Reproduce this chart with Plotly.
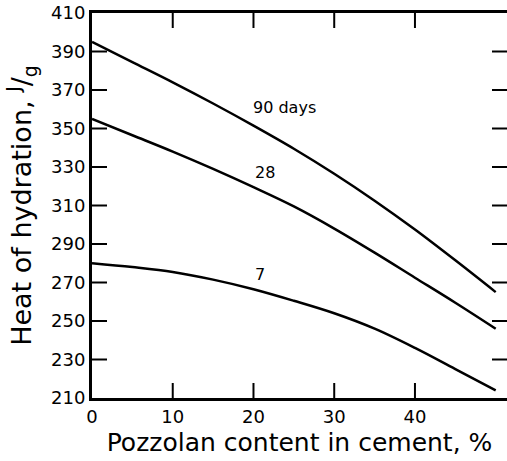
import plotly.graph_objects as go

# Data
pozzolan = [0, 5, 10, 15, 20, 25, 30, 35, 40, 45, 50]
heat_90 = [395, 384.5, 374, 363, 351.5, 339.5, 326.5, 312.5, 297.5, 281.5, 265]
heat_28 = [355, 346.5, 338, 329, 319.5, 309.5, 298, 285.5, 272.5, 259.5, 246]
heat_7 = [280, 278, 275.5, 271.5, 266.5, 260.5, 254, 246, 236, 225, 214]

curve_labels = ["90 days", "28", "7"]
label_x = [23.8, 21.4, 20.8]
label_y = [361, 327, 274]

x_ticks = [0, 10, 20, 30, 40, 50]
y_ticks = [210, 230, 250, 270, 290, 310, 330, 350, 370, 390, 410]

FONT = "DejaVu Sans"

fig = go.Figure()
for ys in (heat_90, heat_28, heat_7):
    fig.add_trace(go.Scatter(
        x=pozzolan, y=ys, mode="lines",
        line=dict(color="black", width=2.5, shape="spline", smoothing=1.0),
        showlegend=False, hoverinfo="skip"))

for t, lx, ly in zip(curve_labels, label_x, label_y):
    fig.add_annotation(x=lx, y=ly, text=t, showarrow=False,
                       font=dict(family=FONT, size=16, color="black"))

xr = [0, 51.4]
yr = [210, 410]

# inward tick marks on all four sides, placed at the tick values through the axis scales
tick_line = dict(color="black", width=2)
for v in x_ticks[1:-1]:
    fig.add_shape(type="line", xref="x", yref="y", x0=v, x1=v,
                  ysizemode="pixel", yanchor=yr[0], y0=0, y1=15, line=tick_line)
    fig.add_shape(type="line", xref="x", yref="y", x0=v, x1=v,
                  ysizemode="pixel", yanchor=yr[1], y0=0, y1=-15, line=tick_line)
for v in y_ticks[1:-1]:
    fig.add_shape(type="line", xref="x", yref="y", y0=v, y1=v,
                  xsizemode="pixel", xanchor=xr[0], x0=0, x1=15, line=tick_line)
    fig.add_shape(type="line", xref="x", yref="y", y0=v, y1=v,
                  xsizemode="pixel", xanchor=xr[1], x0=0, x1=-15, line=tick_line)

fig.update_layout(
    width=507, height=461,
    margin=dict(l=92, r=0, t=13, b=63),
    paper_bgcolor="white", plot_bgcolor="white",
    font=dict(family=FONT, color="black"),
    xaxis=dict(range=xr, tickmode="array", tickvals=x_ticks, ticktext=[str(v) for v in x_ticks],
               ticks="", showline=True, linewidth=3, linecolor="black", mirror=True,
               showgrid=False, zeroline=False, automargin=False,
               tickfont=dict(family=FONT, size=18, color="black"),
               title=dict(text="Pozzolan content in cement, %",
                          font=dict(family=FONT, size=25, color="black"), standoff=8)),
    yaxis=dict(range=yr, tickmode="array", tickvals=y_ticks, ticktext=[str(v) for v in y_ticks],
               ticks="", showline=True, linewidth=3, linecolor="black",
               showgrid=False, zeroline=False, automargin=False,
               tickfont=dict(family=FONT, size=18, color="black"),
               title=dict(text="Heat of hydration, <sup>J</sup>/<sub>g</sub>",
                          font=dict(family=FONT, size=27, color="black"), standoff=12)),
)

fig.write_html("out.html", config={"displayModeBar": False},
               post_script="document.body.style.margin='0';")
